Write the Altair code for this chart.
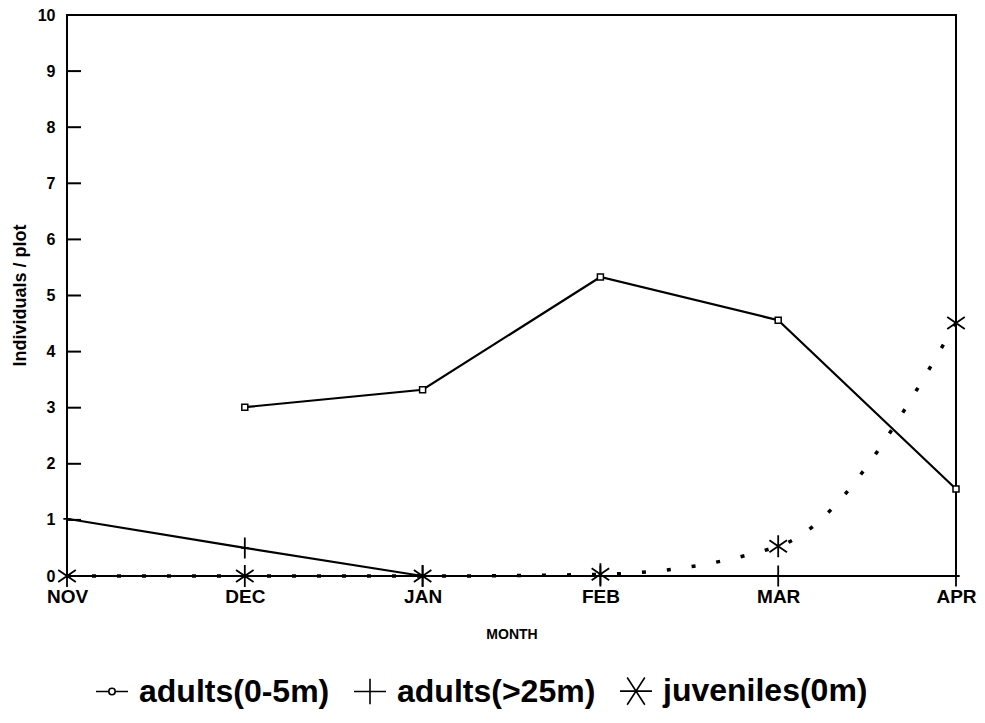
import altair as alt
import pandas as pd

# ---- data ----
months = ["NOV", "DEC", "JAN", "FEB", "MAR", "APR"]
series_names = ["adults(0-5m)", "adults(>25m)", "juveniles(0m)"]
adults_shallow = [None, 3.01, 3.32, 5.33, 4.56, 1.55]
adults_deep = [1.02, 0.5, 0.0, 0.0, 0.0, 0.0]
juveniles = [0.0, 0.0, 0.0, 0.03, 0.53, 4.51]
y_ticks = list(range(0, 11))

rows = []
for name, vals in zip(series_names, [adults_shallow, adults_deep, juveniles]):
    for m, v in zip(months, vals):
        if v is not None:
            rows.append({"month": m, "series": name, "value": v})
df = pd.DataFrame(rows)
ticks_df = pd.DataFrame({"value": y_ticks})

FONT = "Liberation Sans"

x_enc = alt.X(
    "month:N",
    sort=months,
    scale=alt.Scale(type="point", padding=0),
    axis=alt.Axis(
        title="MONTH", ticks=False, tickSize=0, domain=False, grid=False, labelAngle=0,
        labelFont=FONT, labelFontWeight="bold", labelFontSize=19, labelColor="black",
        labelPadding=11, titleFont=FONT, titleFontWeight="bold", titleFontSize=14,
        titleColor="black", titleY=58, titleBaseline="middle",
    ),
)
y_scale = alt.Scale(domain=[0, 10], nice=False, zero=True)
y_axis = alt.Axis(
    title="Individuals / plot", values=y_ticks, format="d", domain=False, grid=False,
    ticks=False, tickSize=0,
    labelFont=FONT, labelFontWeight="bold", labelFontSize=16, labelColor="black",
    labelPadding=12, titleFont=FONT, titleFontWeight="bold", titleFontSize=18,
    titleColor="black", titleX=-47, titleY=280, titleAngle=270,
    titleBaseline="middle", titleAlign="center",
)
y_enc = alt.Y("value:Q", scale=y_scale, axis=y_axis)

base = alt.Chart(df).encode(x=x_enc, y=y_enc)

# inward y ticks, drawn through the y scale
tick_layer = alt.Chart(ticks_df).mark_rule(color="black", strokeWidth=2).encode(
    y=alt.Y("value:Q", scale=y_scale, axis=y_axis),
    x=alt.value(0),
    x2=alt.value(14),
)

line_shallow = base.transform_filter(alt.datum.series == series_names[0]).mark_line(color="black", strokeWidth=2.2)
line_deep = base.transform_filter(alt.datum.series == series_names[1]).mark_line(color="black", strokeWidth=2.2)
line_juv = base.transform_filter(alt.datum.series == series_names[2]).mark_line(
    color="black", strokeWidth=3.5, strokeDash=[4, 21], interpolate="monotone"
)

PLUS_PLOT = "M-0.35,0L0.35,0M0,-1L0,1"
STAR_PLOT = "M0,-1L0,1M-0.8,-0.55L0.8,0.55M-0.8,0.55L0.8,-0.55"

pts_shallow = base.transform_filter(alt.datum.series == series_names[0]).mark_square(
    size=36, fill="white", stroke="black", strokeWidth=1.5, opacity=1
)
pts_deep = base.transform_filter(alt.datum.series == series_names[1]).mark_point(
    shape=PLUS_PLOT, size=440, filled=False, stroke="black", strokeWidth=1.8, opacity=1
)
pts_juv = base.transform_filter(alt.datum.series == series_names[2]).mark_point(
    shape=STAR_PLOT, size=480, filled=False, stroke="black", strokeWidth=1.8, opacity=1
)

LEG_LINE_CIRCLE = "M-1,0L-0.2,0M0.2,0L1,0M-0.2,0A0.2,0.2 0 1,0 0.2,0A0.2,0.2 0 1,0 -0.2,0"
LEG_PLUS = "M-1,0L1,0M0,-0.8L0,0.8"
LEG_STAR = "M-1,0L1,0M-0.55,-0.85L0.55,0.85M-0.55,0.85L0.55,-0.85"

legend_layer = (
    alt.Chart(df)
    .transform_filter("false")
    .mark_point(filled=False, color="black", strokeWidth=1.6, opacity=1)
    .encode(
        shape=alt.Shape(
            "series:N",
            scale=alt.Scale(domain=series_names, range=[LEG_LINE_CIRCLE, LEG_PLUS, LEG_STAR]),
            legend=alt.Legend(
                title=None, orient="none", legendX=28, legendY=659, direction="horizontal",
                labelFont=FONT, labelFontWeight="bold", labelFontSize=32, labelColor="black",
                labelOffset=10, columnPadding=20, symbolSize=1024, symbolStrokeWidth=1.6,
                symbolStrokeColor="black", symbolOpacity=1, padding=0, labelLimit=400,
            ),
        )
    )
)

chart = (
    alt.layer(line_shallow, line_deep, line_juv, pts_shallow, pts_deep, pts_juv, legend_layer, tick_layer)
    .properties(
        width=889, height=561,
        autosize=alt.AutoSizeParams(type="none"),
        padding={"left": 59, "top": 7, "right": 21, "bottom": 139},
        background="white",
    )
    .configure_view(stroke="black", strokeWidth=2)
)

chart.save("out.html", embed_options={"renderer": "svg", "actions": False})
